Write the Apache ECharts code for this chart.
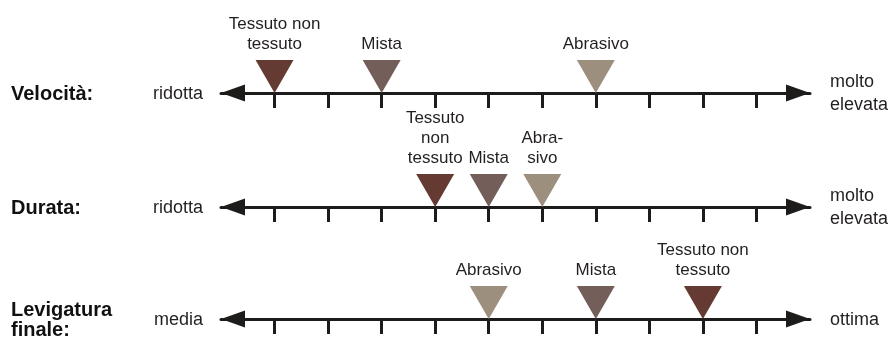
<!DOCTYPE html>
<html><head><meta charset="utf-8">
<script src="https://cdn.jsdelivr.net/npm/echarts@6/dist/echarts.min.js"></script>
<style>html,body{margin:0;padding:0;background:#fff}#c{width:888px;height:338px}</style>
</head><body><div id="c"></div>
<script>
// ---- data ----
const materials = ['Tessuto non tessuto', 'Mista', 'Abrasivo'];
const rowTitles = ['Velocità:', 'Durata:', 'Levigatura\nfinale:'];
const lowLabels = ['ridotta', 'ridotta', 'media'];
const highLabels = ['molto\nelevata', 'molto\nelevata', 'ottima'];
const tickValues = [1, 2, 3, 4, 5, 6, 7, 8, 9, 10];
const velocita = [1, 3, 7];
const durata = [4, 5, 6];
const levigatura = [9, 7, 5];
const velocitaLabels = ['Tessuto non\ntessuto', 'Mista', 'Abrasivo'];
const durataLabels = ['Tessuto\nnon\ntessuto', 'Mista', 'Abra-\nsivo'];
const levigaturaLabels = ['Tessuto non\ntessuto', 'Mista', 'Abrasivo'];

// ---- style / layout ----
const colors = ['#653a33', '#735e5a', '#9d8f7e'];
const ink = '#1e1b1b';
const textColor = '#231f20';
const regFont = "'Liberation Sans', Arial, sans-serif";
const boldFont = "'Liberation Sans', 'DejaVu Sans', sans-serif";
const lineY = [93, 207, 319];
const rows = [
  { values: velocita, labels: velocitaLabels },
  { values: durata, labels: durataLabels },
  { values: levigatura, labels: levigaturaLabels }
];

const grid = [], xAxis = [], yAxis = [], series = [], graphic = [];
rows.forEach((row, i) => {
  grid.push({ left: 221, right: 78, top: lineY[i] - 60, height: 60 });
  xAxis.push({
    gridIndex: i, type: 'value', min: 0, max: 11, interval: 1,
    axisLine: {
      show: true, onZero: false,
      lineStyle: { color: ink, width: 3 },
      symbol: ['triangle', 'triangle'], symbolSize: [17, 24], symbolOffset: [12, -12]
    },
    axisTick: { show: true, customValues: tickValues, length: 15, lineStyle: { color: ink, width: 3 } },
    axisLabel: { show: false },
    splitLine: { show: false }
  });
  yAxis.push({ gridIndex: i, type: 'value', min: 0, max: 1, show: false });
  series.push({
    type: 'scatter', xAxisIndex: i, yAxisIndex: i,
    symbol: 'path://M0,0L38,0L19,33Z', symbolSize: [38, 33], symbolOffset: [0, -16.5],
    silent: true, z: 1,
    itemStyle: { opacity: 1 },
    data: row.values.map((v, k) => ({
      name: materials[k], value: [v, 0],
      itemStyle: { color: colors[k], opacity: 1 },
      label: { formatter: row.labels[k] }
    })),
    label: {
      show: true, position: 'top', distance: 6,
      color: textColor, fontFamily: regFont, fontSize: 17, lineHeight: 20, align: 'center'
    }
  });
  graphic.push({
    type: 'text', x: 11, y: lineY[i] + 1,
    style: { text: rowTitles[i], fill: '#111', fontFamily: boldFont, fontWeight: 'bold', fontSize: 20, lineHeight: 20, align: 'left', verticalAlign: 'middle' }
  });
  graphic.push({
    type: 'text', x: 203, y: lineY[i] + 1,
    style: { text: lowLabels[i], fill: textColor, fontFamily: regFont, fontSize: 18, lineHeight: 20, align: 'right', verticalAlign: 'middle' }
  });
  graphic.push({
    type: 'text', x: 830, y: lineY[i] + 1,
    style: { text: highLabels[i], fill: textColor, fontFamily: regFont, fontSize: 18, lineHeight: 23, align: 'left', verticalAlign: 'middle' }
  });
});

const chart = echarts.init(document.getElementById('c'), null, { renderer: 'canvas' });
chart.setOption({ animation: false, grid, xAxis, yAxis, series, graphic });
</script>
</body></html>
